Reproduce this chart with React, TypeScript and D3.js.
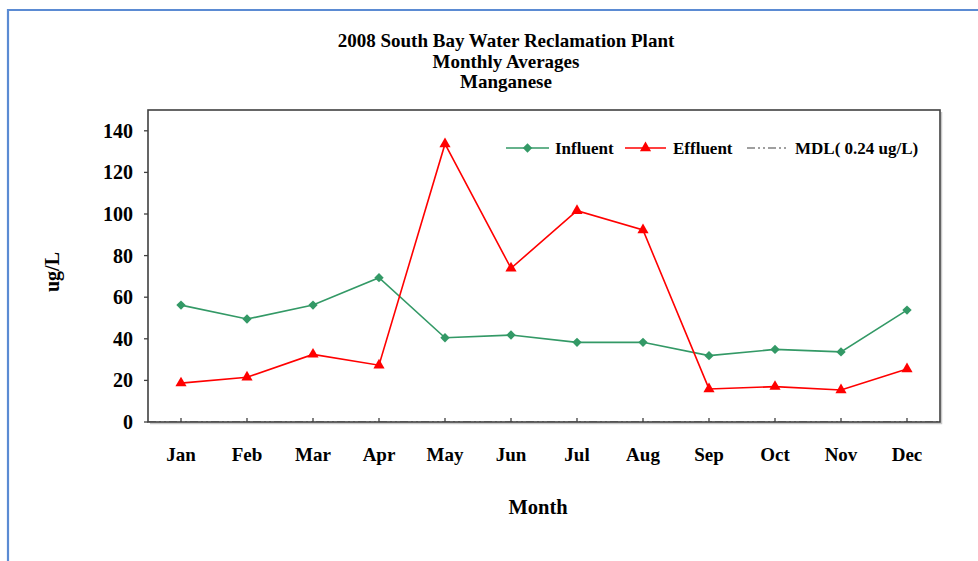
import React from 'react';
import * as d3 from 'd3';

const months = ['Jan', 'Feb', 'Mar', 'Apr', 'May', 'Jun', 'Jul', 'Aug', 'Sep', 'Oct', 'Nov', 'Dec'];
const influent = [56.2, 49.5, 56.2, 69.4, 40.5, 41.8, 38.3, 38.3, 31.9, 34.9, 33.7, 53.8];
const effluent = [18.7, 21.5, 32.5, 27.3, 133.7, 73.9, 101.6, 92.3, 15.9, 17, 15.4, 25.5];
const mdl = 0.24;
const yTicks = [0, 20, 40, 60, 80, 100, 120, 140];
const titleLines = ['2008 South Bay Water Reclamation Plant', 'Monthly Averages', 'Manganese'];

const width = 978;
const height = 561;
const plot = { left: 148, right: 940, top: 110, bottom: 422 };
const font = '"Liberation Serif", "Times New Roman", serif';
const green = '#339966';
const red = '#ff0000';

const App = () => {
  const x = d3.scaleBand().domain(months).range([plot.left, plot.right]);
  const cx = (m: string) => (x(m) as number) + x.bandwidth() / 2;
  const y = d3.scaleLinear().domain([0, 150]).range([plot.bottom, plot.top]);

  const line = d3.line<number>()
    .x((_, i) => cx(months[i]))
    .y(d => y(d));

  const diamond = d3.symbol().type(d3.symbolSquare).size(44)();
  const triangle = d3.symbol().type(d3.symbolTriangle).size(54)();

  const legendY = 148;

  return (
    <svg width={width} height={height} style={{ position: 'absolute', left: 0, top: 0 }}
      fontFamily={font} fontWeight="bold">
      <rect width={width} height={height} fill="#fff" />
      {/* outer frame */}
      <path d={`M8,${height} V10 H${width}`} fill="none" stroke="#5b8bd3" strokeWidth={2.2} />

      {titleLines.map((t, i) => (
        <text key={t} x={506} y={47 + i * 20.5} textAnchor="middle" fontSize={19}>{t}</text>
      ))}

      {/* MDL line, sits on the axis */}
      <line x1={plot.left} x2={plot.right} y1={y(mdl)} y2={y(mdl)}
        stroke="#808080" strokeWidth={0.8} strokeDasharray="8,3,2,3,2,3" />

      <path d={line(influent) as string} fill="none" stroke={green} strokeWidth={1.6} />
      <path d={line(effluent) as string} fill="none" stroke={red} strokeWidth={1.6} />
      {influent.map((v, i) => (
        <path key={'i' + i} d={diamond as string} fill={green}
          transform={`translate(${cx(months[i])},${y(v)}) rotate(45)`} />
      ))}
      {effluent.map((v, i) => (
        <path key={'e' + i} d={triangle as string} fill={red}
          transform={`translate(${cx(months[i])},${y(v)})`} />
      ))}

      {/* plot frame with a faint shadow */}
      <path d={`M${plot.right + 1.5},${plot.top + 2} V${plot.bottom + 1.5} H${plot.left + 2}`}
        fill="none" stroke="#c8c8c8" strokeWidth={1.5} />
      <rect x={plot.left} y={plot.top} width={plot.right - plot.left} height={plot.bottom - plot.top}
        fill="none" stroke="#404040" strokeWidth={1.6} />

      {yTicks.map(t => (
        <g key={t}>
          <line x1={plot.left - 4} x2={plot.left} y1={y(t)} y2={y(t)} stroke="#404040" strokeWidth={1.3} />
          <text x={133} y={y(t)} dy="0.35em" textAnchor="end" fontSize={20}>{t}</text>
        </g>
      ))}
      {months.map(m => (
        <g key={m}>
          <line x1={cx(m)} x2={cx(m)} y1={plot.bottom} y2={plot.bottom - 4} stroke="#404040" strokeWidth={1.3} />
          <text x={cx(m)} y={461} textAnchor="middle" fontSize={19}>{m}</text>
        </g>
      ))}

      <text x={538} y={514} textAnchor="middle" fontSize={20.5}>Month</text>
      <text transform="translate(59,272) rotate(-90)" textAnchor="middle" fontSize={20}>ug/L</text>

      {/* legend */}
      <g fontSize={17}>
        <line x1={506} x2={549} y1={legendY} y2={legendY} stroke={green} strokeWidth={1.6} />
        <path d={diamond as string} fill={green} transform={`translate(527.5,${legendY}) rotate(45)`} />
        <text x={555} y={legendY + 6}>Influent</text>
        <line x1={625} x2={666} y1={legendY} y2={legendY} stroke={red} strokeWidth={1.6} />
        <path d={triangle as string} fill={red} transform={`translate(645.5,${legendY})`} />
        <text x={673} y={legendY + 6}>Effluent</text>
        <line x1={747} x2={786} y1={legendY} y2={legendY} stroke="#808080" strokeWidth={1.3}
          strokeDasharray="8,3,2,3,2,3" />
        <text x={795} y={legendY + 6}>MDL( 0.24 ug/L)</text>
      </g>
    </svg>
  );
};

export default App;
